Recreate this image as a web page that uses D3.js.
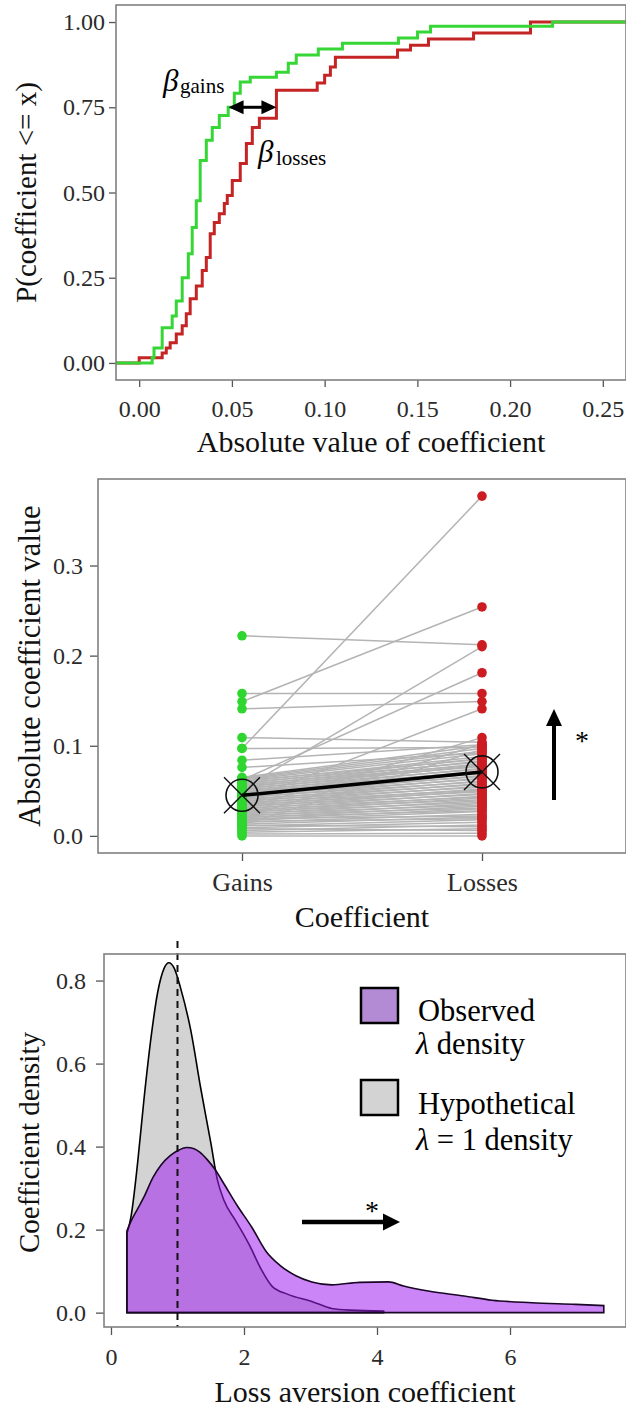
<!DOCTYPE html>
<html>
<head>
<meta charset="utf-8">
<script src="https://cdn.jsdelivr.net/npm/d3@7"></script>
<style>
  html, body { margin: 0; padding: 0; background: #fff; }
  svg { display: block; }
  svg text { font-family: "Liberation Serif", "Times New Roman", Times, serif; }
</style>
</head>
<body>
<svg id="fig" width="626" height="1408"></svg>
<script>
// ---------- Panel A: empirical CDFs of |coefficient| ----------
// coefficient value at each step of the ECDF and the cumulative proportion after it
const gainsStepX = [0.0070, 0.0080, 0.0124, 0.0178, 0.0200, 0.0232, 0.0265, 0.0286, 0.0308, 0.0329,
                    0.0362, 0.0394, 0.0432, 0.0480, 0.0513, 0.0545, 0.0599, 0.0740, 0.0804, 0.0847,
                    0.0966, 0.1096, 0.1398, 0.1501, 0.1571, 0.2229];
const gainsStepP = [0.015, 0.044, 0.103, 0.138, 0.182, 0.250, 0.320, 0.397, 0.476, 0.594,
                    0.653, 0.691, 0.726, 0.750, 0.791, 0.824, 0.838, 0.853, 0.879, 0.903,
                    0.921, 0.938, 0.953, 0.971, 0.988, 1.000];
const lossesStepX = [0.0000, 0.0124, 0.0146, 0.0167, 0.0200, 0.0232, 0.0254, 0.0275, 0.0308, 0.0340,
                     0.0362, 0.0383, 0.0405, 0.0432, 0.0459, 0.0475, 0.0502, 0.0545, 0.0578, 0.0610,
                     0.0648, 0.0740, 0.0960, 0.1000, 0.1031, 0.1058, 0.1393, 0.1463, 0.1560, 0.1803,
                     0.2110];
const lossesStepP = [0.015, 0.029, 0.044, 0.059, 0.085, 0.109, 0.144, 0.188, 0.226, 0.271,
                     0.309, 0.379, 0.412, 0.438, 0.468, 0.491, 0.535, 0.585, 0.644, 0.691,
                     0.718, 0.800, 0.821, 0.844, 0.868, 0.897, 0.918, 0.932, 0.950, 0.968,
                     1.000];
const ecdfXTicks = [0, 0.05, 0.10, 0.15, 0.20, 0.25];
const ecdfYTicks = [0, 0.25, 0.50, 0.75, 1.00];

// ---------- Panel B: paired coefficients, one entry per participant ----------
const gainsCoef = [
  0.222, 0.097, 0.149, 0.052, 0.062, 0.158, 0.141, 0.038, 0.109, 0.097, 0.084, 0.076, 0.030, 0.020, 0.012,
  0.000, 0.002, 0.004, 0.006, 0.008, 0.009, 0.011, 0.012, 0.013, 0.015, 0.016, 0.017, 0.018, 0.019, 0.020,
  0.021, 0.022, 0.023, 0.024, 0.025, 0.026, 0.027, 0.028, 0.029, 0.030, 0.031, 0.032, 0.033, 0.034, 0.035,
  0.036, 0.037, 0.038, 0.039, 0.040, 0.041, 0.042, 0.043, 0.044, 0.045, 0.046, 0.047, 0.048, 0.049, 0.050,
  0.051, 0.052, 0.053, 0.054, 0.055, 0.056, 0.057, 0.058, 0.059, 0.060, 0.061, 0.062, 0.063, 0.064, 0.065
];
const lossesCoef = [
  0.212, 0.377, 0.254, 0.210, 0.181, 0.158, 0.149, 0.141, 0.104, 0.098, 0.101, 0.092, 0.109, 0.102, 0.096,
  0.000, 0.003, 0.008, 0.012, 0.006, 0.015, 0.018, 0.010, 0.021, 0.024, 0.019, 0.027, 0.030, 0.022, 0.033,
  0.028, 0.036, 0.031, 0.039, 0.034, 0.042, 0.037, 0.044, 0.040, 0.047, 0.043, 0.050, 0.046, 0.052, 0.049,
  0.055, 0.051, 0.058, 0.054, 0.061, 0.057, 0.064, 0.060, 0.067, 0.063, 0.070, 0.066, 0.072, 0.069, 0.075,
  0.071, 0.078, 0.074, 0.080, 0.077, 0.083, 0.079, 0.086, 0.082, 0.088, 0.085, 0.091, 0.094, 0.097, 0.100
];
const coefCategories = ["Gains", "Losses"];
const coefMeans = [0.045, 0.071];
const pairYTicks = [0.0, 0.1, 0.2, 0.3];

// ---------- Panel C: loss aversion densities ----------
const lambdaX       = [0.24, 0.30, 0.40, 0.50, 0.63, 0.75, 0.89, 1.00, 1.14, 1.25, 1.34, 1.45, 1.56, 1.70, 1.89,
                       2.12, 2.33, 2.54, 2.78, 3.02, 3.32, 3.74, 4.17, 4.40, 4.77, 5.31, 5.73, 6.33, 6.99, 7.41];
const lambdaDensity = [0.197, 0.220, 0.250, 0.280, 0.325, 0.355, 0.378, 0.390, 0.398, 0.395, 0.386, 0.368, 0.346, 0.310, 0.260,
                       0.205, 0.148, 0.114, 0.089, 0.074, 0.067, 0.073, 0.074, 0.064, 0.052, 0.040, 0.030, 0.024, 0.020, 0.017];
const nullX       = [0.24, 0.30, 0.40, 0.50, 0.60, 0.70, 0.80, 0.87, 0.95, 1.05, 1.20, 1.35, 1.50, 1.60, 1.70,
                     1.88, 2.09, 2.24, 2.42, 2.66, 3.02, 3.32, 3.60, 4.10];
const nullDensity = [0.190, 0.230, 0.360, 0.520, 0.660, 0.770, 0.830, 0.843, 0.830, 0.780, 0.680, 0.540, 0.410, 0.320, 0.270,
                     0.220, 0.160, 0.110, 0.064, 0.044, 0.027, 0.010, 0.006, 0.004];
const densXTicks = [0, 2, 4, 6];
const densYTicks = [0.0, 0.2, 0.4, 0.6, 0.8];
const legendTitles = ["Observed", "Hypothetical"];
const legendSubtitles = ["\u03bb density", "\u03bb = 1 density"];
const referenceLambda = 1;

// ---------- shared styling ----------
const FONT = '"Liberation Serif","Times New Roman",Times,serif';
const BORDER = "#808080";
const svg = d3.select("#fig").attr("font-family", FONT);

function styleAxis(g, size = 24) {
  g.attr("font-family", FONT);
  g.select(".domain").remove();
  g.selectAll(".tick line").attr("stroke", "#555").attr("stroke-width", 1.3);
  g.selectAll(".tick text").attr("fill", "#2b2b2b").attr("font-size", size);
}
function border(p) {
  svg.append("rect").attr("x", p.left).attr("y", p.top)
    .attr("width", p.right - p.left).attr("height", p.bottom - p.top)
    .attr("fill", "none").attr("stroke", BORDER).attr("stroke-width", 1.6);
}
function yTitle(text, x, y, size = 29) {
  svg.append("text").attr("transform", `translate(${x},${y}) rotate(-90)`)
    .attr("text-anchor", "middle").attr("font-size", size).attr("fill", "#111").text(text);
}
function xTitle(text, x, y) {
  svg.append("text").attr("x", x).attr("y", y).attr("text-anchor", "middle")
    .attr("font-size", 30).attr("fill", "#111").text(text);
}
function arrowHead(g, x, y, angle, len, half) {
  // filled triangle with its tip at (x, y), pointing along angle (radians)
  const c = Math.cos(angle), s = Math.sin(angle);
  const bx = x - c * len, by = y - s * len;
  g.append("path")
    .attr("d", `M${x},${y}L${bx - s * half},${by + c * half}L${bx + s * half},${by - c * half}Z`)
    .attr("fill", "#000");
}

// =================== Panel A ===================
const pA = { left: 116, right: 626, top: 5, bottom: 380 };
const xA = d3.scaleLinear().domain([-0.0125, 0.2625]).range([pA.left, pA.right]);
const yA = d3.scaleLinear().domain([-0.05, 1.05]).range([pA.bottom, pA.top]);

svg.append("g").attr("transform", `translate(0,${pA.bottom})`)
  .call(d3.axisBottom(xA).tickValues(ecdfXTicks).tickFormat(d3.format(".2f")).tickSize(7).tickPadding(13))
  .call(styleAxis);
svg.append("g").attr("transform", `translate(${pA.left},0)`)
  .call(d3.axisLeft(yA).tickValues(ecdfYTicks).tickFormat(d3.format(".2f")).tickSize(7).tickPadding(4))
  .call(styleAxis);

svg.append("clipPath").attr("id", "clipA").append("rect")
  .attr("x", pA.left).attr("y", pA.top).attr("width", pA.right - pA.left).attr("height", pA.bottom - pA.top);

const stepLine = d3.line().x(d => xA(d[0])).y(d => yA(d[1])).curve(d3.curveStepAfter);
function ecdfPoints(xs, ps) {
  const pts = [[xA.domain()[0], 0]];
  xs.forEach((v, i) => pts.push([v, ps[i]]));
  pts.push([xA.domain()[1], ps[ps.length - 1]]);
  return pts;
}
const gA = svg.append("g").attr("clip-path", "url(#clipA)");
gA.append("path").attr("d", stepLine(ecdfPoints(lossesStepX, lossesStepP)))
  .attr("fill", "none").attr("stroke", "#c42424").attr("stroke-width", 3);
gA.append("path").attr("d", stepLine(ecdfPoints(gainsStepX, gainsStepP)))
  .attr("fill", "none").attr("stroke", "#36d636").attr("stroke-width", 3);

// horizontal gap between the two curves at P = 0.75
const gapY = yA(0.75);
const gapL = xA(0.0482), gapR = xA(0.0740);
const annA = svg.append("g");
annA.append("line").attr("x1", gapL + 10).attr("x2", gapR - 10).attr("y1", gapY).attr("y2", gapY)
  .attr("stroke", "#000").attr("stroke-width", 3);
arrowHead(annA, gapL, gapY, Math.PI, 15, 7);
arrowHead(annA, gapR, gapY, 0, 15, 7);

const bg = svg.append("text").attr("x", 163).attr("y", 91).attr("fill", "#000");
bg.append("tspan").attr("font-style", "italic").attr("font-size", 31).text("\u03b2");
bg.append("tspan").attr("x", 180).attr("dy", 2).attr("font-size", 21).text("gains");
const bl = svg.append("text").attr("x", 258).attr("y", 162).attr("fill", "#000");
bl.append("tspan").attr("font-style", "italic").attr("font-size", 31).text("\u03b2");
bl.append("tspan").attr("x", 276).attr("dy", 3).attr("font-size", 21).text("losses");

border(pA);
yTitle("P(coefficient <= x)", 36, (pA.top + pA.bottom) / 2);
xTitle("Absolute value of coefficient", (pA.left + pA.right) / 2, 452);

// =================== Panel B ===================
const pB = { left: 98, right: 626, top: 479, bottom: 853 };
const xB = d3.scalePoint().domain(coefCategories).range([pB.left, pB.right]).padding(0.6);
const yB = d3.scaleLinear().domain([-0.019, 0.396]).range([pB.bottom, pB.top]);

svg.append("g").attr("transform", `translate(0,${pB.bottom})`)
  .call(d3.axisBottom(xB).tickSize(8).tickPadding(12))
  .call(g => styleAxis(g, 26));
svg.append("g").attr("transform", `translate(${pB.left},0)`)
  .call(d3.axisLeft(yB).tickValues(pairYTicks).tickFormat(d3.format(".1f")).tickSize(8).tickPadding(7))
  .call(styleAxis);

const pairs = gainsCoef.map((g, i) => ({ gain: g, loss: lossesCoef[i] }));
const gB = svg.append("g");
gB.selectAll("line.pair").data(pairs).join("line").attr("class", "pair")
  .attr("x1", xB("Gains")).attr("x2", xB("Losses"))
  .attr("y1", d => yB(d.gain)).attr("y2", d => yB(d.loss))
  .attr("stroke", "#b4b4b4").attr("stroke-width", 1.5);
gB.selectAll("circle.g").data(gainsCoef).join("circle").attr("class", "g")
  .attr("cx", xB("Gains")).attr("cy", d => yB(d)).attr("r", 4.8).attr("fill", "#2fd62f");
gB.selectAll("circle.l").data(lossesCoef).join("circle").attr("class", "l")
  .attr("cx", xB("Losses")).attr("cy", d => yB(d)).attr("r", 4.8).attr("fill", "#cc1c22");

// group means
gB.append("line")
  .attr("x1", xB(coefCategories[0])).attr("y1", yB(coefMeans[0]))
  .attr("x2", xB(coefCategories[1])).attr("y2", yB(coefMeans[1]))
  .attr("stroke", "#000").attr("stroke-width", 3.5);
coefCategories.forEach((c, i) => {
  const cx = xB(c), cy = yB(coefMeans[i]);
  gB.append("circle").attr("cx", cx).attr("cy", cy).attr("r", 16)
    .attr("fill", "none").attr("stroke", "#111").attr("stroke-width", 1.6);
  gB.append("path").attr("d", `M${cx - 18},${cy - 18}L${cx + 18},${cy + 18}M${cx - 18},${cy + 18}L${cx + 18},${cy - 18}`)
    .attr("stroke", "#111").attr("stroke-width", 1.4);
});

// significance arrow
const annB = svg.append("g");
annB.append("line").attr("x1", 554).attr("x2", 554).attr("y1", 800).attr("y2", 722)
  .attr("stroke", "#000").attr("stroke-width", 4);
arrowHead(annB, 554, 709, -Math.PI / 2, 17, 8);
annB.append("text").attr("x", 582).attr("y", 750).attr("text-anchor", "middle")
  .attr("font-size", 28).text("*");

border(pB);
yTitle("Absolute coefficient value", 40, (pB.top + pB.bottom) / 2, 30.5);
xTitle("Coefficient", (pB.left + pB.right) / 2, 927);

// =================== Panel C ===================
const pC = { left: 104, right: 626, top: 954, bottom: 1327 };
const xC = d3.scaleLinear().domain([-0.105, 7.744]).range([pC.left, pC.right]);
const yC = d3.scaleLinear().domain([-0.0346, 0.864]).range([pC.bottom, pC.top]);

svg.append("g").attr("transform", `translate(0,${pC.bottom})`)
  .call(d3.axisBottom(xC).tickValues(densXTicks).tickFormat(d3.format("d")).tickSize(8).tickPadding(13))
  .call(styleAxis);
svg.append("g").attr("transform", `translate(${pC.left},0)`)
  .call(d3.axisLeft(yC).tickValues(densYTicks).tickFormat(d3.format(".1f")).tickSize(8).tickPadding(10))
  .call(styleAxis);

const densArea = d3.area().x(d => xC(d[0])).y0(yC(0)).y1(d => yC(d[1])).curve(d3.curveMonotoneX);
const gC = svg.append("g");
gC.append("path").attr("d", densArea(nullX.map((v, i) => [v, nullDensity[i]])))
  .attr("fill", "#d3d3d3").attr("stroke", "#000").attr("stroke-width", 1.6);
gC.append("path").attr("d", densArea(lambdaX.map((v, i) => [v, lambdaDensity[i]])))
  .attr("fill", "#a020f0").attr("fill-opacity", 0.55)
  .attr("stroke", "#1a0626").attr("stroke-width", 1.6);

gC.append("line").attr("x1", xC(referenceLambda)).attr("x2", xC(referenceLambda))
  .attr("y1", 941).attr("y2", pC.bottom)
  .attr("stroke", "#111").attr("stroke-width", 2).attr("stroke-dasharray", "7,5");

// legend
const legFills = ["#b38ad4", "#d3d3d3"];
const legTop = [988, 1080];
const legBase = [[1021, 1054], [1114, 1150]];
legendTitles.forEach((t, i) => {
  gC.append("rect").attr("x", 361).attr("y", legTop[i]).attr("width", 37).attr("height", 35)
    .attr("fill", legFills[i]).attr("stroke", "#000").attr("stroke-width", 2.5);
  gC.append("text").attr("x", 418).attr("y", legBase[i][0]).attr("font-size", 30.5).attr("fill", "#000").text(t);
  const sub = gC.append("text").attr("x", 416).attr("y", legBase[i][1]).attr("font-size", 30.5).attr("fill", "#000");
  sub.append("tspan").attr("font-style", "italic").text(legendSubtitles[i].slice(0, 1));
  sub.append("tspan").text(legendSubtitles[i].slice(1));
});

// shift arrow
const annC = svg.append("g");
annC.append("line").attr("x1", 302).attr("x2", 387).attr("y1", 1222).attr("y2", 1222)
  .attr("stroke", "#000").attr("stroke-width", 4.5);
arrowHead(annC, 400, 1222, 0, 17, 8.5);
annC.append("text").attr("x", 372).attr("y", 1220).attr("text-anchor", "middle")
  .attr("font-size", 28).text("*");

border(pC);
yTitle("Coefficient density", 39, (pC.top + pC.bottom) / 2 + 2);
xTitle("Loss aversion coefficient", (pC.left + pC.right) / 2, 1402);
</script>
</body>
</html>
